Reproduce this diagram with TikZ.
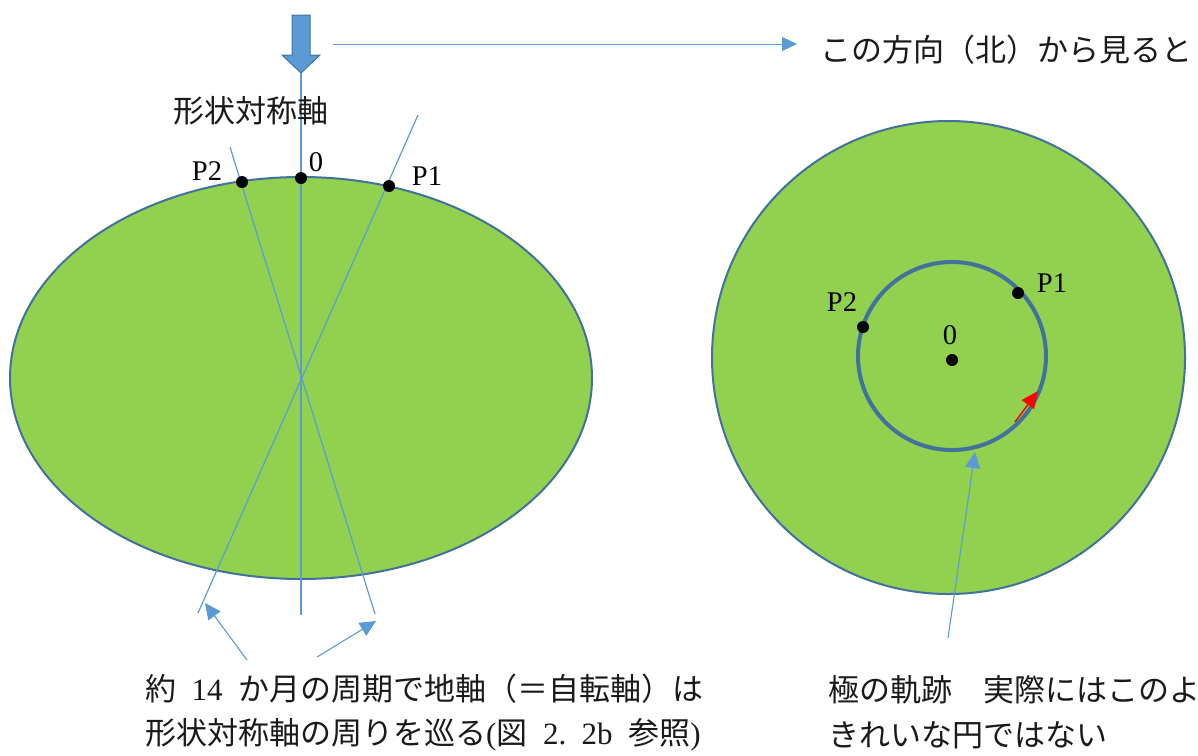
\documentclass[tikz,border=0pt]{standalone}
\usepackage{fontspec}
\setmainfont{Liberation Serif}
\newfontfamily\cjk{Noto Sans CJK JP}
\usetikzlibrary{arrows.meta}
\definecolor{bodygreen}{HTML}{92D050}
\definecolor{edgeblue}{HTML}{41719C}
\definecolor{lineblue}{HTML}{5B9BD5}
\definecolor{inkgray}{HTML}{1A1A1A}
\newcommand{\gap}{\hspace{0.5em}}
\begin{document}
\begin{tikzpicture}[x=1pt,y=-1pt,
  body/.style={fill=bodygreen,draw=edgeblue,line width=2pt},
  axisline/.style={draw=lineblue,line width=1.2pt},
  pointer/.style={draw=lineblue,line width=1.1pt,-{Triangle[length=16pt,width=15pt]},color=lineblue},
  dot/.style={circle,fill=black,inner sep=0pt,minimum size=12pt},
  ptlabel/.style={font=\fontsize{28.5}{30}\selectfont,text=black,inner sep=0pt},
  jtext/.style={font=\cjk\fontsize{31}{36}\selectfont,text=inkgray,inner sep=0pt,anchor=west}]
\useasboundingbox (0,0) rectangle (1198,755);
\clip (0,0) rectangle (1198,755);

% side view of the body
\draw[body] (301,378) ellipse [x radius=291, y radius=201];

% block arrow marking the viewing direction
\draw[fill=lineblue,draw=edgeblue,line width=1pt]
  (292,15) -- (310,15) -- (310,55) -- (320,55) -- (301,73) -- (282,55) -- (292,55) -- cycle;
\coordinate (tip) at (301,73);
\coordinate (axbot) at (301,615);
\coordinate (a1top) at (418,115);
\coordinate (a1bot) at (198,613);
\coordinate (a2top) at (230,147);
\coordinate (a2bot) at (375,614);

% symmetry axis and the two tilted positions of the rotation axis
\draw[axisline] (tip) -- (axbot);
\draw[axisline] (a1top) -- (a1bot);
\draw[axisline] (a2top) -- (a2bot);

% pole positions on the side view
\node[dot] (lp2) at (242,182) {};
\node[dot] (l0) at (301,178) {};
\node[dot] (lp1) at (389,186) {};
\node[ptlabel] (lp2t) at (207,171) {P2};
\node[ptlabel] (l0t) at (316,162) {0};
\node[ptlabel] (lp1t) at (427,176) {P1};

\node[jtext] (axname) at (173,111) {形状対称軸};

% viewing direction note
\node[jtext] (view) at (820,50) {この方向（北）から見ると};
\coordinate (hs) at (333,44);
\coordinate (he) at (797,44);
\draw[pointer,line width=1pt,-{Triangle[length=15pt,width=14pt]}] (hs) -- (he);

% top view of the body
\draw[body] (948.5,357.5) circle [radius=236.5];
\draw[edgeblue,line width=4pt] (952,356) circle [radius=94];
\node[dot] (rp2) at (863,327) {};
\node[dot] (rp1) at (1018,293) {};
\node[dot] (r0) at (952,360) {};
\node[ptlabel] (rp2t) at (842,302) {P2};
\node[ptlabel] (rp1t) at (1052,283) {P1};
\node[ptlabel] (r0t) at (950,335) {0};

% direction of travel of the pole
\coordinate (rs) at (1015,422);
\coordinate (re) at (1038,391);
\draw[red,line width=1.5pt,-{Triangle[length=17pt,width=15pt]}] (rs) -- (re);

% callout arrows
\coordinate (c1s) at (247,660);
\coordinate (c1e) at (205,603);
\coordinate (c2s) at (317,657);
\coordinate (c2e) at (376,621);
\coordinate (c3s) at (948,638);
\coordinate (c3e) at (975,452);
\draw[pointer] (c1s) -- (c1e);
\draw[pointer] (c2s) -- (c2e);
\draw[pointer] (c3s) -- (c3e);

% captions
\node[jtext] (cap1a) at (145,689) {約\gap{\rmfamily 14}\gap か月の周期で地軸（＝自転軸）は};
\node[jtext] (cap1b) at (145,735) {形状対称軸の周りを巡る{\rmfamily (}図\gap{\rmfamily 2.\gap 2b}\gap 参照{\rmfamily )}};
\node[jtext] (cap2a) at (828,690) {極の軌跡　実際にはこのよ};
\node[jtext] (cap2b) at (828,735) {きれいな円ではない};
\end{tikzpicture}
\end{document}
